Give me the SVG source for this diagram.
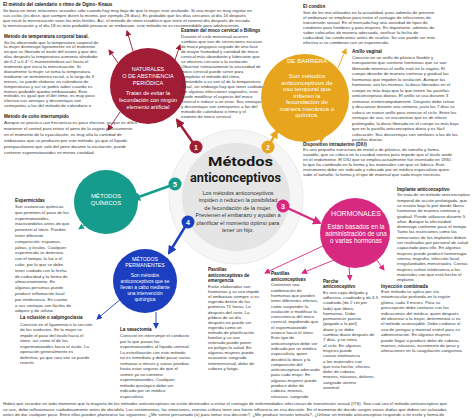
<svg xmlns="http://www.w3.org/2000/svg" width="474" height="419" viewBox="0 0 474 419">
<style>
.t{font-family:"Liberation Sans",Arial,sans-serif;font-size:4.4px;fill:#383838}
.h{font-family:"Liberation Sans",Arial,sans-serif;font-size:4.6px;font-weight:bold;fill:#1a1a1a}
.w{font-family:"Liberation Sans",Arial,sans-serif;fill:#fff;text-anchor:middle}
.c{font-family:"Liberation Sans",Arial,sans-serif;font-size:5.5px;fill:#333;text-anchor:middle}
.big{font-family:Roboto,"Liberation Sans",Arial,sans-serif;font-size:13.5px;font-weight:bold;fill:#1a1a1a}
.bn{font-family:"Liberation Sans",Arial,sans-serif;font-size:7px;font-weight:bold;fill:#fff;text-anchor:middle}
.thin{fill:none;stroke-width:0.9}
.thick{fill:none;stroke-width:2.4}
</style>
<defs>
<marker id="mr" markerUnits="userSpaceOnUse" markerWidth="6" markerHeight="6" refX="5" refY="3" orient="auto"><path d="M0,0 L6,3 L0,6 z" fill="#a01d35"/></marker>
<marker id="mrb" markerUnits="userSpaceOnUse" markerWidth="9" markerHeight="9" refX="7" refY="4.5" orient="auto"><path d="M0,0 L9,4.5 L0,9 z" fill="#a01d35"/></marker>
<marker id="mo" markerUnits="userSpaceOnUse" markerWidth="6" markerHeight="6" refX="5" refY="3" orient="auto"><path d="M0,0 L6,3 L0,6 z" fill="#e6a51c"/></marker>
<marker id="mob" markerUnits="userSpaceOnUse" markerWidth="9" markerHeight="9" refX="7" refY="4.5" orient="auto"><path d="M0,0 L9,4.5 L0,9 z" fill="#e6a51c"/></marker>
<marker id="mm" markerUnits="userSpaceOnUse" markerWidth="6" markerHeight="6" refX="5" refY="3" orient="auto"><path d="M0,0 L6,3 L0,6 z" fill="#d6297f"/></marker>
<marker id="mmb" markerUnits="userSpaceOnUse" markerWidth="9" markerHeight="9" refX="7" refY="4.5" orient="auto"><path d="M0,0 L9,4.5 L0,9 z" fill="#d6297f"/></marker>
<marker id="mb" markerUnits="userSpaceOnUse" markerWidth="6" markerHeight="6" refX="5" refY="3" orient="auto"><path d="M0,0 L6,3 L0,6 z" fill="#1c3fc0"/></marker>
<marker id="mbb" markerUnits="userSpaceOnUse" markerWidth="9" markerHeight="9" refX="7" refY="4.5" orient="auto"><path d="M0,0 L9,4.5 L0,9 z" fill="#1c3fc0"/></marker>
<marker id="mt" markerUnits="userSpaceOnUse" markerWidth="6" markerHeight="6" refX="5" refY="3" orient="auto"><path d="M0,0 L6,3 L0,6 z" fill="#169c8c"/></marker>
<marker id="mtb" markerUnits="userSpaceOnUse" markerWidth="9" markerHeight="9" refX="7" refY="4.5" orient="auto"><path d="M0,0 L9,4.5 L0,9 z" fill="#169c8c"/></marker>
</defs>
<rect width="474" height="419" fill="#fff"/>

<g id="center">
<circle cx="236" cy="197" r="67" fill="#f6f6f6" stroke="#dedede" stroke-width="0.6"/>
<circle cx="236" cy="197" r="54" fill="#e5e5e5"/>
<text class="big" x="208" y="166" textLength="65" lengthAdjust="spacingAndGlyphs">Métodos</text>
<text class="big" x="190" y="182" textLength="91" lengthAdjust="spacingAndGlyphs">anticonceptivos</text>
<text class="c"><tspan x="238" y="194.5">Los métodos anticonceptivos</tspan><tspan x="238" y="202">impiden o reducen la posibilidad</tspan><tspan x="238" y="209.5">de fecundación de la mujer.</tspan><tspan x="238" y="217">Previenen el embarazo y ayudan a</tspan><tspan x="238" y="224.5">planificar el momento óptimo para</tspan><tspan x="238" y="232">tener un hijo.</tspan></text>
</g>

<g id="connectors">
<line class="thick" x1="196" y1="147" x2="177" y2="120" stroke="#a01d35" marker-end="url(#mrb)"/>
<line class="thin" x1="133" y1="51" x2="127" y2="31" stroke="#a01d35" marker-end="url(#mr)"/>
<line class="thin" x1="118" y1="63" x2="109" y2="50" stroke="#a01d35" marker-end="url(#mr)"/>
<line class="thin" x1="120" y1="112" x2="108" y2="130" stroke="#a01d35" marker-end="url(#mr)"/>
<line class="thin" x1="175" y1="60" x2="180" y2="45" stroke="#a01d35" marker-end="url(#mr)"/>
<line class="thick" x1="268" y1="147" x2="277" y2="131" stroke="#e6a51c" marker-end="url(#mob)"/>
<line class="thin" x1="338" y1="68" x2="346" y2="49" stroke="#e6a51c" marker-end="url(#mo)"/>
<line class="thin" x1="322" y1="133" x2="321" y2="142" stroke="#e6a51c" marker-end="url(#mo)"/>
<line class="thick" x1="283" y1="206" x2="320" y2="223" stroke="#d6297f" marker-end="url(#mmb)"/>
<line class="thin" x1="325" y1="245" x2="265" y2="273" stroke="#d6297f" marker-end="url(#mm)"/>
<line class="thin" x1="334" y1="260" x2="302" y2="273" stroke="#d6297f" marker-end="url(#mm)"/>
<line class="thin" x1="349" y1="267" x2="350" y2="280" stroke="#d6297f" marker-end="url(#mm)"/>
<line class="thin" x1="376" y1="259" x2="384" y2="270" stroke="#d6297f" marker-end="url(#mm)"/>
<line class="thick" x1="188" y1="222" x2="169" y2="253" stroke="#1c3fc0" marker-end="url(#mbb)"/>
<line class="thin" x1="122" y1="298" x2="97" y2="319" stroke="#1c3fc0" marker-end="url(#mb)"/>
<line class="thin" x1="156" y1="312" x2="156" y2="328" stroke="#1c3fc0" marker-end="url(#mb)"/>
<line class="thick" x1="175" y1="184" x2="133" y2="199" stroke="#169c8c" marker-end="url(#mtb)"/>
<line class="thin" x1="86" y1="224" x2="79" y2="229" stroke="#169c8c" marker-end="url(#mt)"/>
</g>

<g id="badges">
<circle cx="196" cy="147" r="6.5" fill="#a01d35"/><text class="bn" x="196" y="149.5">1</text>
<circle cx="268" cy="147" r="6.5" fill="#e6a51c"/><text class="bn" x="268" y="149.5">2</text>
<circle cx="283" cy="206" r="6.5" fill="#d6297f"/><text class="bn" x="283" y="208.5">3</text>
<circle cx="188" cy="222" r="6.5" fill="#1c3fc0"/><text class="bn" x="188" y="224.5">4</text>
<circle cx="175" cy="184" r="6.5" fill="#169c8c"/><text class="bn" x="175" y="186.5">5</text>
</g>

<g id="naturales">
<circle cx="148" cy="86" r="38" fill="#a01d35"/>
<text class="w" font-size="5.5"><tspan x="148" y="71">NATURALES</tspan><tspan x="148" y="78">O DE ABSTINENCIA</tspan><tspan x="148" y="85">PERIÓDICA</tspan><tspan x="148" y="95">Tratan de evitar la</tspan><tspan x="148" y="102">fecundación con ningún</tspan><tspan x="148" y="108.5">elemento artificial</tspan></text>
</g>

<g id="barrera">
<circle cx="305" cy="98" r="44" fill="#e6a51c"/>
<text class="w" font-size="6.2"><tspan x="307" y="63">DE BARRERA</tspan><tspan x="307" y="78">Son métodos</tspan><tspan x="307" y="84.5">anticonceptivos de</tspan><tspan x="307" y="91">uso temporal que</tspan><tspan x="307" y="97.5">infieren la</tspan><tspan x="307" y="104">fecundación de</tspan><tspan x="307" y="110.5">manera mecánica o</tspan><tspan x="307" y="117">química.</tspan></text>
</g>

<g id="hormonales">
<circle cx="355" cy="233" r="35" fill="#d6297f"/>
<text class="w" font-size="7"><tspan x="356" y="216">HORMONALES</tspan></text>
<text class="w" font-size="6.3"><tspan x="356" y="229">Están basados en la</tspan><tspan x="356" y="236">administración de una</tspan><tspan x="356" y="243">o varias hormonas</tspan></text>
</g>

<g id="quimicos">
<circle cx="106" cy="202" r="32" fill="#169c8c"/>
<text class="w" font-size="6"><tspan x="106" y="198">MÉTODOS</tspan><tspan x="106" y="205">QUÍMICOS</tspan></text>
</g>

<g id="permanentes">
<circle cx="145" cy="281" r="32" fill="#1c3fc0"/>
<text class="w" font-size="5.2"><tspan x="145" y="261">MÉTODOS</tspan><tspan x="145" y="267">PERMANENTES</tspan></text>
<text class="w" font-size="4.8"><tspan x="145" y="277">Son métodos</tspan><tspan x="145" y="283">anticonceptivos que se</tspan><tspan x="145" y="289">llevan a cabo mediante</tspan><tspan x="145" y="295">una intervención</tspan><tspan x="145" y="301">quirúrgica</tspan></text>
</g>

<g id="calendario">
<text class="h" x="3" y="6">El método del calendario o ritmo de Ogino- Knaus</text>
<text class="t"><tspan x="3" y="11.5">Se basa en tener relaciones sexuales sólo cuando hay muy baja de que la mujer este ovulando. Si una mujer es muy regular en</tspan><tspan x="3" y="16.5">sus ciclos (es decir, que siempre duren lo mismo, por ejemplo 28 días). Es probable que los días cercanos al día 14 después</tspan><tspan x="3" y="21.5">que inició la menstruación sean los más fértiles. Así, el método de ritmo establece que entre el noveno día después de iniciada</tspan><tspan x="3" y="26.5">la menstruación y el día 18 es más probable provocar un embarazo. este método no es recomendable para adolescentes.</tspan></text>
</g>

<g id="temperatura">
<text class="h" x="4" y="38">Método de temperatura corporal basal.</text>
<text class="t"><tspan x="4" y="43.5">Se ha observado que la temperatura corporal de</tspan><tspan x="4" y="48.4">la mujer disminuye ligeramente en el momento</tspan><tspan x="4" y="53.3">en que es liberado el óvulo del ovario y que dos</tspan><tspan x="4" y="58.2">días después la temperatura aumenta alrededor</tspan><tspan x="4" y="63.1">de 0.2 a 0.4° C manteniéndose así hasta el</tspan><tspan x="4" y="68">momento que inicia la menstruación. Si</tspan><tspan x="4" y="72.9">diariamente la mujer se toma la temperatura</tspan><tspan x="4" y="77.8">mediante un termómetro rectal, a lo largo de 3</tspan><tspan x="4" y="82.7">meses, se puede elaborar un calendario de</tspan><tspan x="4" y="87.6">temperaturas y así se podrá saber cuando es</tspan><tspan x="4" y="92.5">menos probable quedar embarazada. Este</tspan><tspan x="4" y="97.4">método, es igual que el del ritmo, es muy poco</tspan><tspan x="4" y="102.3">efectivo sus ventajas y desventajas son</tspan><tspan x="4" y="107.2">semejantes a las del método de calendario o</tspan></text>
</g>

<g id="coito">
<text class="h" x="4" y="118">Método de coito interrumpido</text>
<text class="t"><tspan x="4" y="124">Aunque se practica con frecuencia es poco efectivo, ya que es difícil</tspan><tspan x="4" y="130">mantener el control para retirar el pene de la vagina precisamente</tspan><tspan x="4" y="136">en el momento de la eyaculación, es muy alta la cantidad de</tspan><tspan x="4" y="142">embarazos que se producen por este método, ya que el líquido</tspan><tspan x="4" y="148">preeyaculatorio que sale del pene durante la excitación, puede</tspan><tspan x="4" y="154">contener espermatozoides en menor cantidad.</tspan></text>
</g>

<g id="moco">
<text class="h" x="181" y="32">Examen del moco cervical o Billings</text>
<text class="t"><tspan x="181" y="37.5">Durante el ciclo menstrual ocurren</tspan><tspan x="181" y="42.5">cambios que van de secreciones escasas</tspan><tspan x="181" y="47.5">de moco pegajoso seguido de otra fase</tspan><tspan x="181" y="52.5">de mayor humedad y cantidad de moco</tspan><tspan x="181" y="57.5">cervical más abundante y lubricante que</tspan><tspan x="181" y="62.5">se observa cercano a la ovulación.</tspan><tspan x="181" y="67.5">Observar rutinariamente la viscosidad de</tspan><tspan x="181" y="72.5">moco cervical puede servir para</tspan><tspan x="181" y="77.5">completar el método del ritmo,</tspan><tspan x="181" y="82.5">sumándolo a su vez al de la temperatura</tspan><tspan x="181" y="87.5">basal, sin embargo hay que tener cuidado</tspan><tspan x="181" y="92.5">por algunas infecciones vaginales, esto</tspan><tspan x="181" y="97.5">puede modificar el aspecto del moco</tspan><tspan x="181" y="102.5">cervical e inducir a un error. Sus ventajas</tspan><tspan x="181" y="107.5">y desventajas son semejantes a las del</tspan><tspan x="181" y="112.5">método de calendario o ritmo y el</tspan><tspan x="181" y="117.5">examen de moco cervical.</tspan></text>
</g>

<g id="condon">
<text class="h" x="303" y="8">El condón</text>
<text class="t"><tspan x="303" y="14">Son de los má utilizados en la actualidad, pues además de prevenir</tspan><tspan x="303" y="19">el embarazo se emplean para evitar el contagio de infecciones de</tspan><tspan x="303" y="24">transmisión sexual. En el mercado hay una variedad de tipos de</tspan><tspan x="303" y="29">condones para hombres y para mujeres. Es importante, además de</tspan><tspan x="303" y="34">saber colocarlos de manera adecuada, verificar la fecha de</tspan><tspan x="303" y="39">caducidad, las condiciones antes de usarlos. Su uso puede ser más</tspan><tspan x="303" y="44">efectiva si se combinan con un espermicida.</tspan></text>
</g>

<g id="anillo">
<text class="h" x="352" y="53">Anillo vaginal</text>
<text class="t"><tspan x="352" y="58.5">Consiste en un anillo de plástico flexible y</tspan><tspan x="352" y="64">transparente que contiene hormonas que se van</tspan><tspan x="352" y="69.5">liberando mientras el anillo está en la vagina. El</tspan><tspan x="352" y="75">cuerpo absorbe de manera continua y gradual las</tspan><tspan x="352" y="80.5">hormonas que impiden la ovulación. Aunque las</tspan><tspan x="352" y="86">hormonas son las mismas, la dosis liberadas en el</tspan><tspan x="352" y="91.5">cuerpo es más baja que la que tienen las pastillas</tspan><tspan x="352" y="97">anticonceptivas diarias. El anillo se usa durante 3</tspan><tspan x="352" y="102.5">semanas ininterrumpidamente. Después debe retirar</tspan><tspan x="352" y="108">y descansar durante una semana, justo los 7 días se</tspan><tspan x="352" y="113.5">coloca un nuevo anillo para reiniciar el ciclo. Entre las</tspan><tspan x="352" y="119">ventajas de uso, se encuentran que es de efecto</tspan><tspan x="352" y="124.5">prolongado, la dosis liberada en el cuerpo es más baja</tspan><tspan x="352" y="130">que en la pastilla anticonceptiva diaria y es fácil</tspan><tspan x="352" y="135.5">colocación. Sus desventajas son similares a las de las</tspan><tspan x="352" y="141">pastillas diarias.</tspan></text>
</g>

<g id="diu">
<text class="h" x="303" y="145.5">Dispositivo intrauterino (DIU)</text>
<text class="t"><tspan x="303" y="151">Es una pequeña estructura de metal o de plástico, de tamaño y forma</tspan><tspan x="303" y="156">variable, que se coloca en la cavidad uterina para impedir que el óvulo anide</tspan><tspan x="303" y="161">en el endometrio. El DIU que se emplea actualmente fue inventado en 1930.</tspan><tspan x="303" y="166">lo que ha cambiado en la forma y los materiales con que se fabrica. Este</tspan><tspan x="303" y="171">instrumento debe ser indicado y colocado por un médico especialista quien</tspan><tspan x="303" y="176">sabe el tamaño, la forma y el tipo de material que cada mujer necesita.</tspan></text>
</g>

<g id="implante">
<text class="h" x="397" y="191">Implante anticonceptivo</text>
<text class="t"><tspan x="397" y="196.3">Se trata de un método anticonceptivo</tspan><tspan x="397" y="201.6">temporal de acción prolongada, que</tspan><tspan x="397" y="206.9">se inserta bajo la piel donde libera</tspan><tspan x="397" y="212.2">hormonas de manera continua y</tspan><tspan x="397" y="217.5">gradual. Puede utilizarse durante 5</tspan><tspan x="397" y="222.8">años. Aunque la efectividad</tspan><tspan x="397" y="228.1">disminuye conforme pasa el tiempo.</tspan><tspan x="397" y="233.4">Tanto las inserciones como las</tspan><tspan x="397" y="238.7">remociones de los implantes deben</tspan><tspan x="397" y="244">ser realizados por personal de salud</tspan><tspan x="397" y="249.3">capacitado para ello. En algunas</tspan><tspan x="397" y="254.6">mujeres puede producir hemorragia</tspan><tspan x="397" y="259.9">uterina, migraña, infección local,</tspan><tspan x="397" y="265.2">irregularidades menstruales. Ciertas</tspan><tspan x="397" y="270.5">mujeres sufren intolerancia a los</tspan><tspan x="397" y="275.8">materiales con que está hecho el</tspan><tspan x="397" y="281">implante.</tspan></text>
</g>

<g id="inyeccion">
<text class="h" x="381" y="287.5">Inyección combinada</text>
<text class="t"><tspan x="381" y="293">Este método se aplica por vía</tspan><tspan x="381" y="298.4">intramuscular profunda en la región</tspan><tspan x="381" y="303.8">glútea, cada 3 meses. Para su</tspan><tspan x="381" y="309.2">prescripción debe contarse con las</tspan><tspan x="381" y="314.6">indicaciones del médico, quien después</tspan><tspan x="381" y="320">de observar a la mujer, determinará si es</tspan><tspan x="381" y="325.4">el método aconsejable. Debe cuidarse el</tspan><tspan x="381" y="330.8">uso de jeringas y material estéril para su</tspan><tspan x="381" y="336.2">administración. En algunas mujeres</tspan><tspan x="381" y="341.6">puede llegar a producir dolor de cabeza,</tspan><tspan x="381" y="347">mareos, náuseas, incremento de peso y</tspan><tspan x="381" y="352.4">alteraciones en la coagulación sanguínea.</tspan></text>
</g>

<g id="parche">
<text class="h"><tspan x="323" y="283">Parche</tspan><tspan x="323" y="288.3">anticonceptivo</tspan></text>
<text class="t"><tspan x="323" y="293.6">Es una capa delgada y</tspan><tspan x="323" y="298.9">adhesiva, cuadrado y de 4.5</tspan><tspan x="323" y="304.2">cuadrada (de 2 cm por</tspan><tspan x="323" y="309.5">lado) que libera</tspan><tspan x="323" y="314.8">hormonas. Debe</tspan><tspan x="323" y="320.1">permanecer puesto</tspan><tspan x="323" y="325.4">(pegado a la piel)</tspan><tspan x="323" y="330.7">diario y se debe</tspan><tspan x="323" y="336">cambiar diario después de</tspan><tspan x="323" y="341.3">7 días, y se retira</tspan><tspan x="323" y="346.6">al ciclo. En algunas</tspan><tspan x="323" y="351.9">mujeres puede</tspan><tspan x="323" y="357.2">causar intolerancia</tspan><tspan x="323" y="362.5">a los materiales con</tspan><tspan x="323" y="367.8">que esta hecho, efectos,</tspan><tspan x="323" y="373.1">dolor de cabeza,</tspan><tspan x="323" y="378.4">mareos, náuseas, dolores,</tspan><tspan x="323" y="383.7">sangrado uterino</tspan><tspan x="323" y="389">anormal.</tspan></text>
</g>

<g id="pastillas">
<text class="h"><tspan x="271" y="275">Pastillas</tspan><tspan x="271" y="280.5">anticonceptivas</tspan></text>
<text class="t"><tspan x="271" y="286.3">Contienen una</tspan><tspan x="271" y="291.6">combinación de</tspan><tspan x="271" y="296.9">hormonas que pueden</tspan><tspan x="271" y="302.2">tener diferentes efectos,</tspan><tspan x="271" y="307.5">como suspender la</tspan><tspan x="271" y="312.8">ovulación o modificar la</tspan><tspan x="271" y="318.1">consistencia del moco</tspan><tspan x="271" y="323.4">cervical, impidiendo que</tspan><tspan x="271" y="328.7">el espermatozoide</tspan><tspan x="271" y="334">avance hacia el útero.</tspan><tspan x="271" y="339.3">Este tipo de</tspan><tspan x="271" y="344.6">anticonceptivo debe ser</tspan><tspan x="271" y="349.9">indicado por un médico</tspan><tspan x="271" y="355.2">especialista, quien</tspan><tspan x="271" y="360.5">decidirá la dosis y la</tspan><tspan x="271" y="365.8">composición del</tspan><tspan x="271" y="371.1">anticonceptivo adecuado</tspan><tspan x="271" y="376.4">para cada mujer. En</tspan><tspan x="271" y="381.7">algunas mujeres puede</tspan><tspan x="271" y="387">producir dolor de</tspan><tspan x="271" y="392.3">cabeza, mareos,</tspan><tspan x="271" y="397.6">náuseas, sangrado</tspan></text>
</g>

<g id="emergencia">
<text class="h"><tspan x="208" y="271">Pastillas</tspan><tspan x="208" y="276.5">anticonceptivas de</tspan><tspan x="208" y="282">emergencia</tspan></text>
<text class="t"><tspan x="208" y="288">Están elaboradas con</tspan><tspan x="208" y="293.1">hormonas y su uso impide</tspan><tspan x="208" y="298.2">el embarazo siempre si es</tspan><tspan x="208" y="303.3">ingerida dentro de las</tspan><tspan x="208" y="308.4">primeras 72 horas. Lo</tspan><tspan x="208" y="313.5">después del coito. La</tspan><tspan x="208" y="318.6">píldora de un día</tspan><tspan x="208" y="323.7">después no puede ser</tspan><tspan x="208" y="328.8">ingerida como un</tspan><tspan x="208" y="333.9">método de planificación</tspan><tspan x="208" y="339">familiar y su uso</tspan><tspan x="208" y="344.1">reiterado puede poner</tspan><tspan x="208" y="349.2">en peligro la salud. En</tspan><tspan x="208" y="354.3">algunas mujeres puede</tspan><tspan x="208" y="359.4">ocasionar sangrado</tspan><tspan x="208" y="364.5">intermenstrual, dolor de</tspan><tspan x="208" y="369.6">cabeza y fatiga.</tspan></text>
</g>

<g id="espermicidas">
<text class="h" x="15" y="202">Espermicidas</text>
<text class="t" font-size="4.6"><tspan x="15" y="208">Son sustancias químicas</tspan><tspan x="15" y="213.8">que permiten el paso de los</tspan><tspan x="15" y="219.6">espermatozoides,</tspan><tspan x="15" y="225.4">inactivándolos antes de que</tspan><tspan x="15" y="231.2">penetren al útero. Pueden</tspan><tspan x="15" y="237">tener diferente</tspan><tspan x="15" y="242.8">composición: espumas,</tspan><tspan x="15" y="248.6">jaleas, y óvulos. Cualquier</tspan><tspan x="15" y="254.4">espermicida se deteriora</tspan><tspan x="15" y="260.2">con el tiempo, la luz o el</tspan><tspan x="15" y="266">calor, por lo que se debe</tspan><tspan x="15" y="271.8">tener cuidado con la fecha</tspan><tspan x="15" y="277.6">de caducidad y la forma de</tspan><tspan x="15" y="283.4">almacenamiento. En</tspan><tspan x="15" y="289.2">algunas personas puede</tspan><tspan x="15" y="295">producir inflamación local</tspan><tspan x="15" y="300.8">por intolerancia. En cuanto</tspan><tspan x="15" y="306.6">a sus ventajas son fáciles de</tspan><tspan x="15" y="312.4">adquirir y de utilizar.</tspan></text>
</g>

<g id="oclusion">
<text class="h" x="20" y="319">La oclusión o salpingoclasia</text>
<text class="t" font-size="4.6"><tspan x="20" y="325.5">Consiste en el ligamento o la sección</tspan><tspan x="20" y="331">de los oviductos. En la mujer se</tspan><tspan x="20" y="336.5">impide el paso del óvulo hacia el</tspan><tspan x="20" y="342">útero, así como el de los</tspan><tspan x="20" y="347.5">espermatozoides hacia el óvulo. La</tspan><tspan x="20" y="353">operación generalmente es</tspan><tspan x="20" y="358.5">definitiva, ya que rara vez se puede</tspan><tspan x="20" y="364">revertir.</tspan></text>
</g>

<g id="vasectomia">
<text class="h" x="120" y="331">La vasectomía</text>
<text class="t" font-size="4.5"><tspan x="120" y="337">Consiste en interrumpir el conducto</tspan><tspan x="120" y="342.5">por la que pasan los</tspan><tspan x="120" y="348">espermatozoides al líquido seminal.</tspan><tspan x="120" y="353.5">La esterilización con este método</tspan><tspan x="120" y="359">no es inmediata y debe pasar varias</tspan><tspan x="120" y="364.5">semanas o meses y varias pruebas</tspan><tspan x="120" y="370">hasta estar seguros de que el</tspan><tspan x="120" y="375.5">semen ya no contiene</tspan><tspan x="120" y="381">espermatozoides. Cualquier</tspan><tspan x="120" y="386.5">método quirúrgico debe ser</tspan><tspan x="120" y="392">indicado por un médico</tspan><tspan x="120" y="397.5">especialista.</tspan></text>
</g>

<g id="nota">
<text class="t"><tspan x="3" y="405">Habrá que recordar en todo momento que la mayoría de los métodos anticonceptivos no están destinados a evitar el contagio de enfermedades infecciosas de transmisión sexual (ITS). Sea cual sea el método anticonceptivo que</tspan><tspan x="3" y="410.5">se use, debe reflexionarse cuidadosamente antes de decidirlo. Los sentimientos, las emociones, nuestra cultura tiene una fuerte influencia en esa decisión. En el momento de decidir surgen varias dudas que deben ser aclaradas</tspan><tspan x="3" y="416">antes de dar cualquier paso. Entre ellas pueden plantearse las siguientes: ¿Me siento presionado (a) para tomar esa decisión?, ¿Me produce tensión tomarla?, ¿Utilizar un método anticonceptivo responde a mi estilo y forma de</tspan></text>
</g>
</svg>
